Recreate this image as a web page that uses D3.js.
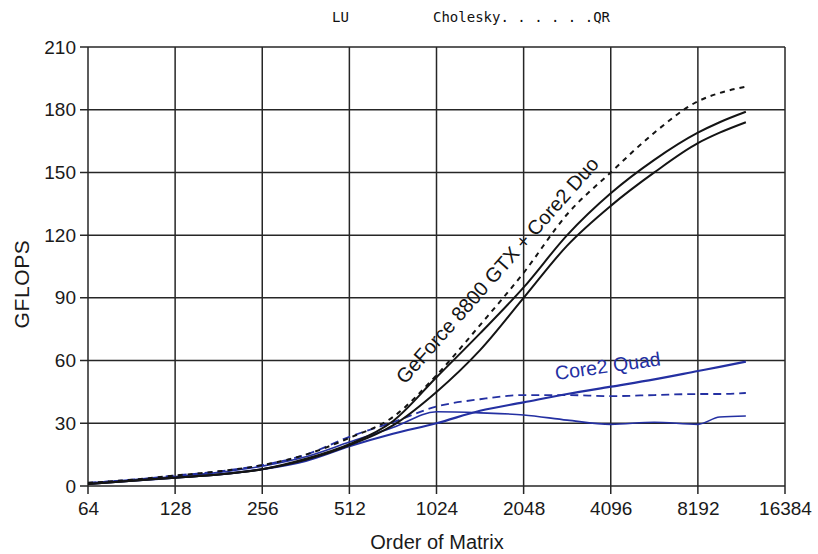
<!DOCTYPE html>
<html>
<head>
<meta charset="utf-8">
<script src="https://cdn.jsdelivr.net/npm/d3@7"></script>
<style>
  html, body { margin: 0; padding: 0; background: #fff; }
  svg { display: block; }
</style>
</head>
<body>
<svg id="chart" width="818" height="554"></svg>
<script>
// ---- data ----
const orders = [64, 91, 128, 181, 256, 362, 512, 724, 1024, 1448, 2048, 2896, 4096, 5793, 8192, 9742, 12000];
const gpuLU       = [1, 2.5, 4, 5.5, 8, 13, 20, 31, 52, 73, 95, 120, 140, 156, 169, 174, 179];
const gpuCholesky = [1, 2.5, 4, 5.5, 8, 12.5, 19.5, 29, 45, 65, 90, 115, 134, 150, 164, 169, 174];
const gpuQR       = [1.5, 3, 5, 7, 10, 15, 23, 33, 53, 77, 102, 130, 150, 169, 184, 188, 191];
const quadLU       = [1, 2.5, 4, 5.5, 8, 12, 19, 25, 30, 36, 40, 44, 47.5, 51, 55, 57, 59.5];
const quadCholesky = [1.5, 3, 4.5, 6.5, 9.5, 14, 21, 28, 35.5, 35, 34, 31.5, 29.5, 30.5, 29.5, 33, 33.5];
const quadQR       = [1.5, 3, 5, 7, 10, 15, 23.5, 30.5, 38, 41.5, 43.5, 43.5, 43, 43.5, 44, 44, 44.5];
const xTicks = [64, 128, 256, 512, 1024, 2048, 4096, 8192, 16384];
const yTicks = [0, 30, 60, 90, 120, 150, 180, 210];
const legendLabels = ["LU", "Cholesky. . . . . .QR"];
const annotations = ["GeForce 8800 GTX + Core2 Duo", "Core2 Quad"];

const BLUE = "#2430a2";
const INK = "#141414";
const FONT = "'Liberation Sans', Arial, sans-serif";

const svg = d3.select("#chart");
const x = d3.scaleLog().base(2).domain([64, 16384]).range([88, 785]);
const y = d3.scaleLinear().domain([0, 210]).range([486, 47]);

// grid
const grid = svg.append("g");
grid.selectAll("line.v").data(xTicks).join("line")
  .attr("x1", d => x(d)).attr("x2", d => x(d))
  .attr("y1", y(210)).attr("y2", y(0) + 8)
  .attr("stroke", "#262626").attr("stroke-width", 1.5);
grid.selectAll("line.h").data(yTicks).join("line")
  .attr("x1", x(64) - 8).attr("x2", x(16384))
  .attr("y1", d => y(d)).attr("y2", d => y(d))
  .attr("stroke", "#262626").attr("stroke-width", 1.5);

// axis labels via d3 axes
const xAxis = svg.append("g").attr("transform", `translate(0,${y(0)})`)
  .call(d3.axisBottom(x).tickValues(xTicks).tickFormat(d3.format("d")).tickSize(0).tickPadding(16));
const yAxis = svg.append("g").attr("transform", `translate(${x(64)},0)`)
  .call(d3.axisLeft(y).tickValues(yTicks).tickSize(0).tickPadding(12));
[xAxis, yAxis].forEach(a => {
  a.select(".domain").remove();
  a.selectAll("text").attr("font-family", FONT)
    .attr("font-size", 19).attr("fill", "#1a1a1a");
});

// lines
const line = d3.line().x((d, i) => x(orders[i])).y(d => y(d)).curve(d3.curveMonotoneX);
const series = [
  {v: quadQR, c: BLUE, w: 1.8, dash: "8,5"},
  {v: quadCholesky, c: BLUE, w: 1.6, dash: null},
  {v: quadLU, c: BLUE, w: 2.2, dash: null},
  {v: gpuQR, c: INK, w: 2.0, dash: "5,5"},
  {v: gpuCholesky, c: INK, w: 2.0, dash: null},
  {v: gpuLU, c: INK, w: 2.0, dash: null}
];
svg.append("g").selectAll("path").data(series).join("path")
  .attr("d", d => line(d.v))
  .attr("fill", "none")
  .attr("stroke", d => d.c)
  .attr("stroke-width", d => d.w)
  .attr("stroke-dasharray", d => d.dash);

// annotations
svg.append("text").text(annotations[0])
  .attr("transform", "translate(405,385) rotate(-48.5)")
  .attr("font-family", FONT)
  .attr("font-size", 20).attr("fill", INK);
svg.append("text").text(annotations[1])
  .attr("transform", "translate(556,380) rotate(-8)")
  .attr("font-family", FONT)
  .attr("font-size", 19.5).attr("fill", BLUE);

// axis titles
svg.append("text").text("Order of Matrix")
  .attr("x", 437).attr("y", 549).attr("text-anchor", "middle")
  .attr("font-family", FONT)
  .attr("font-size", 20).attr("fill", "#1a1a1a");
svg.append("text").text("GFLOPS")
  .attr("transform", "translate(29,284) rotate(-90)").attr("text-anchor", "middle")
  .attr("font-family", FONT).attr("letter-spacing", 0.6)
  .attr("font-size", 21).attr("fill", "#1a1a1a");

// legend (monospace text at top)
svg.append("text").text(legendLabels[0])
  .attr("x", 332).attr("y", 22)
  .attr("font-family", "'DejaVu Sans Mono', monospace").attr("font-size", 14).attr("fill", "#111");
svg.append("text").text(legendLabels[1])
  .attr("x", 433).attr("y", 22)
  .attr("font-family", "'DejaVu Sans Mono', monospace").attr("font-size", 14).attr("fill", "#111");
</script>
</body>
</html>
